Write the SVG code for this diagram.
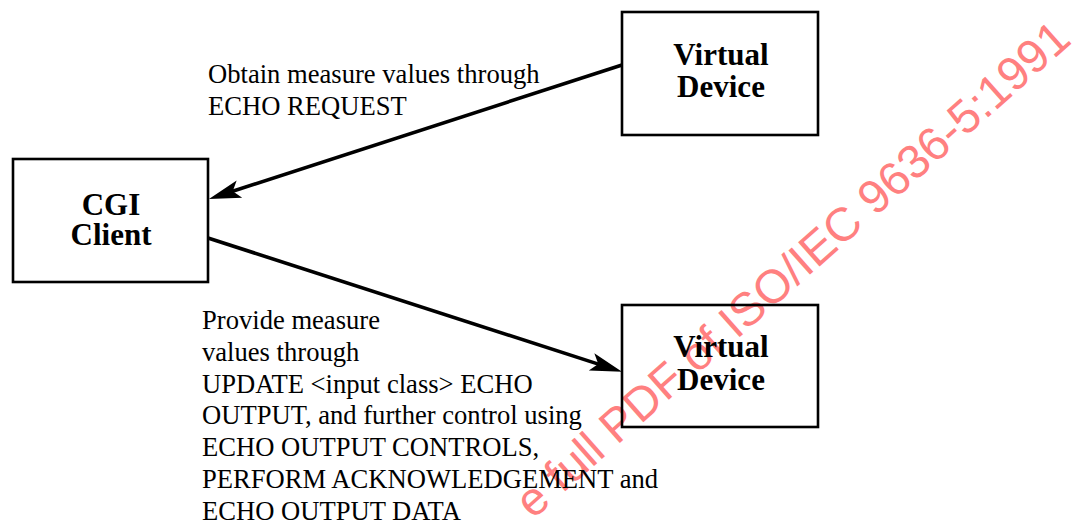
<svg xmlns="http://www.w3.org/2000/svg" width="1073" height="524" viewBox="0 0 1073 524">
<style>
.box{fill:none;stroke:#000;stroke-width:2.6}
.title{font-family:"Liberation Serif","Times New Roman",serif;font-weight:bold;font-size:31px;text-anchor:middle;fill:#000}
.lbl{font-family:"Liberation Serif","Times New Roman",serif;font-size:26.6px;fill:#000}
.conn{fill:none;stroke:#000;stroke-width:3.6}
.wm{font-family:"Liberation Sans",Arial,sans-serif;font-size:47px;fill:#ff8080;text-anchor:middle}
</style>
<defs>
<marker id="ah" markerUnits="userSpaceOnUse" viewBox="-34 -11 36 22" markerWidth="36" markerHeight="22" refX="-20" refY="0" orient="auto">
<path d="M0,0 L-32,-9 L-25,0 L-32,9 Z" fill="#000"/>
</marker>
</defs>
<text class="wm" transform="translate(803,281) rotate(-41.5)">e full PDF of ISO/IEC 9636-5:1991</text>
<g id="cgi-client">
<rect class="box" x="13" y="159" width="195" height="123"/>
<text class="title" x="111" y="215">CGI<tspan x="111" dy="30">Client</tspan></text>
</g>
<g id="virtual-device-1">
<rect class="box" x="622" y="12" width="196" height="123"/>
<text class="title" x="721" y="65">Virtual<tspan x="721" dy="32">Device</tspan></text>
</g>
<g id="virtual-device-2">
<rect class="box" x="622" y="305" width="196" height="122"/>
<text class="title" x="721" y="357">Virtual<tspan x="721" dy="33">Device</tspan></text>
</g>
<g id="connectors">
<line class="conn" x1="622" y1="65" x2="228" y2="192.8" marker-end="url(#ah)"/>
<line class="conn" x1="208" y1="238" x2="603" y2="365.6" marker-end="url(#ah)"/>
</g>
<g id="labels">
<text class="lbl" x="208" y="82.5">Obtain measure values through</text>
<text class="lbl" x="208" y="114.5">ECHO REQUEST</text>
<text class="lbl" x="202" y="329">Provide measure</text>
<text class="lbl" x="202" y="360.8">values through</text>
<text class="lbl" x="202" y="392.6">UPDATE &lt;input class&gt; ECHO</text>
<text class="lbl" x="202" y="424.4">OUTPUT, and further control using</text>
<text class="lbl" x="202" y="456.2">ECHO OUTPUT CONTROLS,</text>
<text class="lbl" x="202" y="488">PERFORM ACKNOWLEDGEMENT and</text>
<text class="lbl" x="202" y="519.8">ECHO OUTPUT DATA</text>
</g>
</svg>
